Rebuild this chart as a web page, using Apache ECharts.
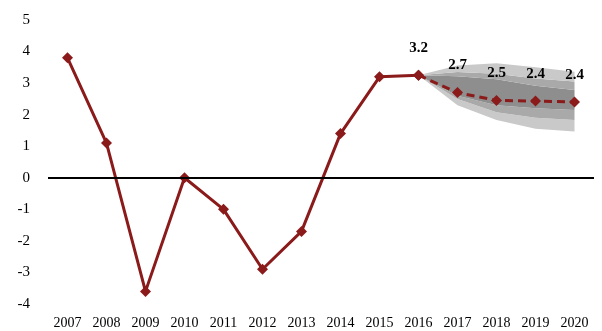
<!DOCTYPE html>
<html>
<head>
<meta charset="utf-8">
<script src="https://cdn.jsdelivr.net/npm/echarts@6/dist/echarts.min.js"></script>
<style>
  html, body { margin: 0; padding: 0; background: #fff; }
  #chart { width: 602px; height: 331px; }
</style>
</head>
<body>
<div id="chart"></div>
<script>
const years = ['2007', '2008', '2009', '2010', '2011', '2012', '2013', '2014', '2015', '2016', '2017', '2018', '2019', '2020']
const actual = [3.8, 1.1, -3.6, 0.0, -1.0, -2.9, -1.7, 1.4, 3.2, 3.25, null, null, null, null]
const forecast = [null, null, null, null, null, null, null, null, null, 3.25, 2.7, 2.45, 2.43, 2.4]
const forecastLabels = ['3.2', '2.7', '2.5', '2.4', '2.4']

// fan bands from 2016 onwards
const outerLow = [3.25, 2.3, 1.83, 1.55, 1.47]
const midLow = [3.25, 2.5, 2.08, 1.9, 1.83]
const darkLow = [3.25, 2.6, 2.3, 2.2, 2.15]
const darkHigh = [3.25, 3.22, 3.12, 2.92, 2.78]
const midHigh = [3.25, 3.35, 3.3, 3.15, 3.05]
const outerHigh = [3.25, 3.56, 3.63, 3.5, 3.36]

const pad = new Array(9).fill(null)
const diff = (a, b) => pad.concat(a.map((v, i) => +(v - b[i]).toFixed(3)))

const band = (name, data, color) => ({
  name, type: 'line', stack: 'fan', data,
  symbol: 'none', silent: true,
  lineStyle: { width: 0 },
  areaStyle: { color: color, opacity: 1 }
})

const red = '#8b1a1a'
const serif = 'Liberation Serif'

const chart = echarts.init(document.getElementById('chart'))
chart.setOption({
  animation: false,
  grid: { left: 48, right: 8, top: 20, bottom: 27 },
  xAxis: {
    type: 'category',
    data: years,
    axisLine: { show: false },
    axisTick: { show: false },
    axisLabel: { color: '#000', fontFamily: serif, fontSize: 14, margin: 12 }
  },
  yAxis: {
    type: 'value',
    min: -4, max: 5, interval: 1,
    splitLine: { show: false },
    axisLine: { show: false },
    axisTick: { show: false },
    axisLabel: { color: '#000', fontFamily: serif, fontSize: 15, margin: 18 }
  },
  series: [
    band('base', pad.concat(outerLow), 'transparent'),
    band('l1', diff(midLow, outerLow), '#c9c9c9'),
    band('m1', diff(darkLow, midLow), '#a9a9a9'),
    band('d', diff(darkHigh, darkLow), '#8e8e8e'),
    band('m2', diff(midHigh, darkHigh), '#a9a9a9'),
    band('l2', diff(outerHigh, midHigh), '#c9c9c9'),
    {
      name: 'actual', type: 'line', data: actual,
      symbol: 'diamond', symbolSize: 11,
      lineStyle: { color: red, width: 3 },
      itemStyle: { color: red },
      markLine: {
        silent: true, symbol: 'none', label: { show: false },
        lineStyle: { color: '#000', width: 2, type: 'solid' },
        data: [{ yAxis: 0 }]
      },
      z: 3
    },
    {
      name: 'forecast', type: 'line', data: forecast,
      symbol: 'diamond', symbolSize: 11,
      lineStyle: { color: red, width: 3, type: [8, 5] },
      itemStyle: { color: red },
      label: {
        show: true, position: 'top', distance: 14,
        color: '#000', fontFamily: serif, fontSize: 15, fontWeight: 'bold',
        formatter: p => forecastLabels[p.dataIndex - 9]
      },
      z: 4
    }
  ]
})
</script>
</body>
</html>
